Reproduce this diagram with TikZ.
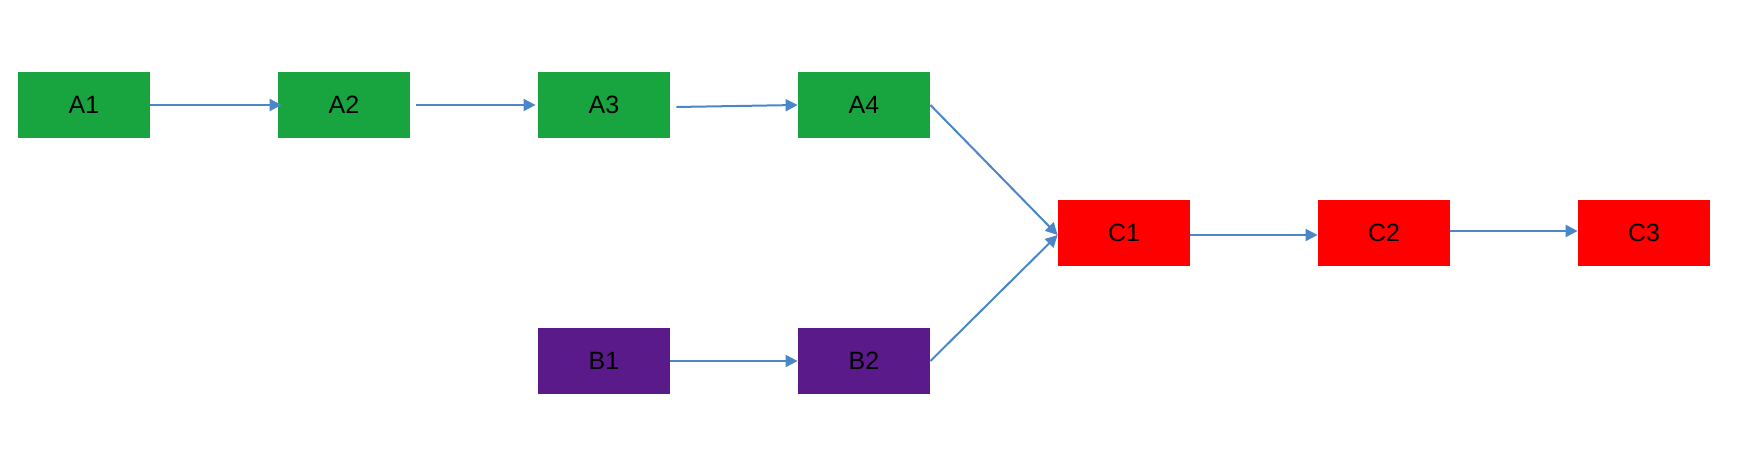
\documentclass[tikz,border=0pt]{standalone}
\usepackage{fontspec}
\setmainfont{Liberation Sans}
\usetikzlibrary{arrows.meta}

\definecolor{stepgreen}{HTML}{18A540}
\definecolor{stepred}{HTML}{FE0000}
\definecolor{steppurple}{HTML}{5B1A8A}
\definecolor{linkblue}{HTML}{4A86C8}

\tikzset{
    stepbox/.style={minimum width=66pt, minimum height=33pt, inner sep=0pt, font=\fontsize{12.5}{14}\selectfont},
    link/.style={linkblue, line width=1pt, -{Triangle[length=6pt,width=6pt]}}
}

\begin{document}
\begin{tikzpicture}[x=0.5pt, y=-0.5pt]
        \useasboundingbox (0,0) rectangle (1748,458);
        % top row
        \node[stepbox, fill=stepgreen] (a1) at (84,105) {A1};
        \node[stepbox, fill=stepgreen] (a2) at (344,105) {A2};
        \node[stepbox, fill=stepgreen] (a3) at (604,105) {A3};
        \node[stepbox, fill=stepgreen] (a4) at (864,105) {A4};
        % bottom row
        \node[stepbox, fill=steppurple] (b1) at (604,361) {B1};
        \node[stepbox, fill=steppurple] (b2) at (864,361) {B2};
        % middle row
        \node[stepbox, fill=stepred] (c1) at (1124,233) {C1};
        \node[stepbox, fill=stepred] (c2) at (1384,233) {C2};
        \node[stepbox, fill=stepred] (c3) at (1644,233) {C3};

        \draw[link] (a1.east) -- ([xshift=2pt]a2.west);
        \draw[link] ([xshift=3pt]a2.east) -- ([xshift=-1pt]a3.west);
        \draw[link] ([xshift=3pt,yshift=-1pt]a3.east) -- (a4.west);
        \draw[link] (a4.east) -- ([yshift=-1pt]c1.west);
        \draw[link] (b1.east) -- (b2.west);
        \draw[link] (b2.east) -- ([yshift=-1pt]c1.west);
        \draw[link] ([yshift=-1pt]c1.east) -- ([yshift=-1pt]c2.west);
        \draw[link] ([yshift=1pt]c2.east) -- ([yshift=1pt]c3.west);
    \end{tikzpicture}
\end{document}
